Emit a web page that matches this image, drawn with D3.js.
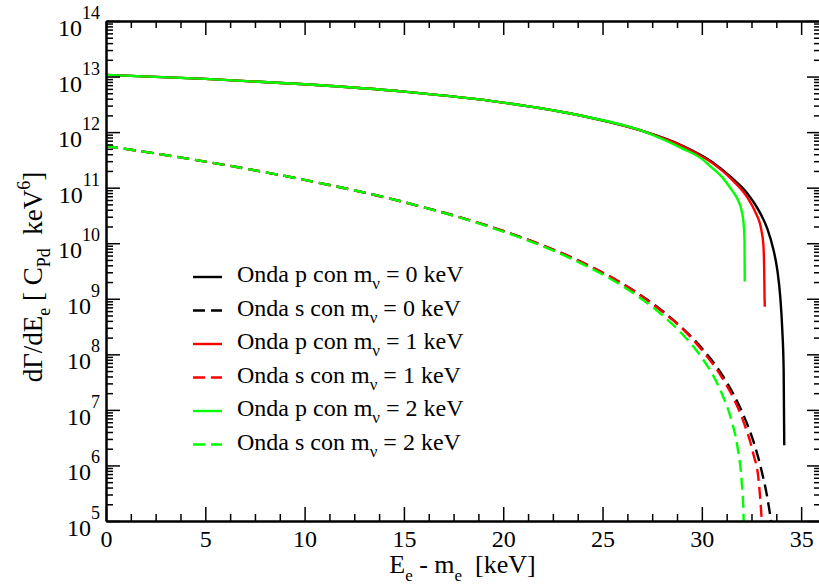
<!DOCTYPE html>
<html>
<head>
<meta charset="utf-8">
<script src="https://d3js.org/d3.v7.min.js"></script>
<style>
  body { margin: 0; background: #fff; }
  svg text { font-family: 'Liberation Serif', 'DejaVu Serif', 'Times New Roman', Times, serif; fill: #000; white-space: pre; }
  .axis path, .axis line { stroke: #000; fill: none; }
  .axis path { stroke-width: 2; }
  .axis line { stroke-width: 1.5; }
</style>
</head>
<body>
<svg id="chart" width="819" height="586"></svg>
<script>
// values (energy in keV, rate in C_Pd keV^6)
const energyP0 = [0, 5, 10, 15, 20, 24, 27, 29, 30.5, 31.5, 32.3, 32.9, 33.3, 33.6, 33.8, 33.95, 34.05, 34.12, 34.15];
const rateP0 = [1.07e13, 9.1e12, 7.25e12, 5.35e12, 3.4e12, 1.95e12, 1.05e12, 5.75e11, 2.93e11, 1.51e11, 7.8e10, 3.7e10, 1.82e10, 7.8e9, 3.3e9, 1.07e9, 2.8e8, 5.2e7, 2.3e6];

const energyS0 = [0, 5, 10, 15, 20, 22, 24, 26.5, 28, 29, 30, 31, 31.6, 32.1, 32.6, 33.0, 33.3, 33.5, 33.6];
const rateS0 = [5.62e11, 2.95e11, 1.38e11, 5.5e10, 1.66e10, 9.1e9, 4.47e9, 1.45e9, 6.1e8, 3.0e8, 1.29e8, 4.4e7, 1.9e7, 8.0e6, 2.7e6, 8.3e5, 2.6e5, 9.1e4, 4.8e4];

const energyP1 = [0, 5, 10, 15, 20, 24, 27, 29, 30.5, 31.5, 32.3, 32.7, 33.0, 33.1, 33.14, 33.16, 33.17];
const rateP1 = [1.07e13, 9.1e12, 7.25e12, 5.35e12, 3.4e12, 1.95e12, 1.05e12, 5.6e11, 2.82e11, 1.41e11, 6.6e10, 3.6e10, 1.7e10, 9.3e9, 3.2e9, 1.0e9, 7.2e8];

const energyS1 = [0, 5, 10, 15, 20, 22, 24, 26.5, 28, 29, 30, 31, 31.6, 32.1, 32.6, 32.86, 33.0, 33.08];
const rateS1 = [5.62e11, 2.95e11, 1.38e11, 5.5e10, 1.66e10, 9.1e9, 4.47e9, 1.45e9, 5.9e8, 2.95e8, 1.2e8, 3.9e7, 1.6e7, 6.1e6, 1.58e6, 5.4e5, 1.26e5, 4e4];

const energyP2 = [0, 5, 10, 15, 20, 24, 27, 29, 30, 30.5, 31, 31.5, 31.8, 32.0, 32.1, 32.15, 32.16];
const rateP2 = [1.07e13, 9.1e12, 7.25e12, 5.35e12, 3.4e12, 1.95e12, 1.05e12, 5.1e11, 3.3e11, 2.3e11, 1.58e11, 9.1e10, 6.2e10, 3.9e10, 2.3e10, 1.1e10, 2.05e9];

const energyS2 = [0, 5, 10, 15, 20, 22, 24, 26.5, 28, 29, 30, 30.5, 31, 31.5, 31.8, 32.0, 32.1, 32.14];
const rateS2 = [5.62e11, 2.95e11, 1.38e11, 5.5e10, 1.62e10, 8.8e9, 4.2e9, 1.3e9, 5.1e8, 2.35e8, 8.7e7, 4.6e7, 2.0e7, 6.3e6, 2.1e6, 5.4e5, 1.23e5, 2.8e4];

const legendWave = ["p", "s", "p", "s", "p", "s"];
const legendMass = ["0", "0", "1", "1", "2", "2"];
const seriesColors = ["#000000", "#000000", "#ff0000", "#ff0000", "#00ff00", "#00ff00"];
const seriesDashed = [false, true, false, true, false, true];

const xTicks = [0, 5, 10, 15, 20, 25, 30, 35];
const yExponents = [5, 6, 7, 8, 9, 10, 11, 12, 13, 14];

const series = [
  [energyP0, rateP0], [energyS0, rateS0],
  [energyP1, rateP1], [energyS1, rateS1],
  [energyP2, rateP2], [energyS2, rateS2]
];

const serifFont = "'Liberation Serif', 'DejaVu Serif', 'Times New Roman', Times, serif";

const svg = d3.select("#chart");
const margin = {left: 106, top: 21, right: 821, bottom: 521};

const x = d3.scaleLinear().domain([0, 36]).range([margin.left, margin.right]);
const y = d3.scaleLog().domain([1e5, 1e14]).range([margin.bottom, margin.top]);

const majorY = yExponents.map(e => Math.pow(10, e));
let minorY = [];
for (let e = 5; e < 14; e++) {
  for (let k = 2; k <= 9; k++) minorY.push(k * Math.pow(10, e));
}
let minorX = [];
for (let v = 1.25; v < 36; v += 1.25) {
  if (Math.abs(v / 5 - Math.round(v / 5)) > 1e-6) minorX.push(v);
}

svg.append("defs").append("clipPath").attr("id", "plotclip")
  .append("rect")
  .attr("x", margin.left).attr("y", margin.top)
  .attr("width", margin.right - margin.left).attr("height", margin.bottom - margin.top);

// curves
const line = d3.line()
  .x(d => x(d[0]))
  .y(d => y(d[1]))
  .curve(d3.curveMonotoneX);

const curves = svg.append("g").attr("clip-path", "url(#plotclip)");
series.forEach((s, i) => {
  const pts = s[0].map((e, j) => [e, s[1][j]]);
  curves.append("path")
    .attr("d", line(pts))
    .attr("fill", "none")
    .attr("stroke", seriesColors[i])
    .attr("stroke-width", 2.4)
    .attr("stroke-dasharray", seriesDashed[i] ? "12,6" : null);
});

// axes (ticks point inwards)
function addAxis(axis, tx, ty) {
  return svg.append("g").attr("class", "axis")
    .attr("transform", "translate(" + tx + "," + ty + ")")
    .call(axis);
}
addAxis(d3.axisBottom(x).tickValues(minorX).tickSize(-7).tickSizeOuter(0).tickFormat(""), 0, margin.bottom);
addAxis(d3.axisTop(x).tickValues(minorX).tickSize(-7).tickSizeOuter(0).tickFormat(""), 0, margin.top);
addAxis(d3.axisLeft(y).tickValues(minorY).tickSize(-7).tickSizeOuter(0).tickFormat(""), margin.left, 0);
addAxis(d3.axisRight(y).tickValues(minorY).tickSize(-7).tickSizeOuter(0).tickFormat(""), margin.right, 0);

const xAxisG = addAxis(d3.axisBottom(x).tickValues(xTicks).tickSize(-14).tickSizeOuter(0).tickFormat(d3.format("d")), 0, margin.bottom);
addAxis(d3.axisTop(x).tickValues(xTicks).tickSize(-14).tickSizeOuter(0).tickFormat(""), 0, margin.top);
addAxis(d3.axisLeft(y).tickValues(majorY).tickSize(-14).tickSizeOuter(0).tickFormat(""), margin.left, 0);
addAxis(d3.axisRight(y).tickValues(majorY).tickSize(-14).tickSizeOuter(0).tickFormat(""), margin.right, 0);

svg.selectAll(".axis").attr("font-family", null);

xAxisG.selectAll("text")
  .attr("y", 26).attr("dy", null)
  .style("font-family", serifFont)
  .style("font-size", "24px");

// y tick labels 10^n
const yLab = svg.append("g");
yExponents.forEach(e => {
  const t = yLab.append("text")
    .attr("x", 100)
    .attr("y", y(Math.pow(10, e)) + 15)
    .attr("text-anchor", "end")
    .style("font-family", serifFont)
    .style("font-size", "24px");
  t.append("tspan").text("10");
  t.append("tspan").attr("dy", -17).style("font-size", "18px").text(String(e));
});

// axis titles
const xt = svg.append("text")
  .attr("x", (margin.left + margin.right) / 2 - 1)
  .attr("y", 573)
  .attr("text-anchor", "middle")
  .style("font-family", serifFont)
  .style("font-size", "26px");
xt.append("tspan").text("E");
xt.append("tspan").attr("dy", 8).style("font-size", "17px").text("e");
xt.append("tspan").attr("dy", -8).text(" - m");
xt.append("tspan").attr("dy", 8).style("font-size", "17px").text("e");
xt.append("tspan").attr("dy", -8).text("  [keV]");

const yt = svg.append("text")
  .attr("transform", "translate(42,277) rotate(-90)")
  .attr("text-anchor", "middle")
  .style("font-family", serifFont)
  .style("font-size", "27px");
yt.append("tspan").text("dΓ/dE");
yt.append("tspan").attr("dy", 8).style("font-size", "18px").text("e");
yt.append("tspan").attr("dy", -8).text(" [ C");
yt.append("tspan").attr("dy", 8).style("font-size", "18px").text("Pd");
yt.append("tspan").attr("dy", -8).text("  keV");
yt.append("tspan").attr("dy", -12).style("font-size", "18px").text("6");
yt.append("tspan").attr("dy", 12).text("]");

// legend
const legend = svg.append("g");
legendWave.forEach((w, i) => {
  const ly = 277 + i * 33.5;
  legend.append("line")
    .attr("x1", 193).attr("x2", 222)
    .attr("y1", ly).attr("y2", ly)
    .attr("stroke", seriesColors[i])
    .attr("stroke-width", 2.4)
    .attr("stroke-dasharray", seriesDashed[i] ? "12,6" : null);
  const t = legend.append("text")
    .attr("x", 237).attr("y", ly + 5)
    .style("font-family", serifFont)
    .style("font-size", "24px");
  t.append("tspan").text("Onda " + w + " con m");
  t.append("tspan").attr("dy", 7).style("font-size", "17px").text("ν");
  t.append("tspan").attr("dy", -7).text(" = " + legendMass[i] + " keV");
});
</script>
</body>
</html>
